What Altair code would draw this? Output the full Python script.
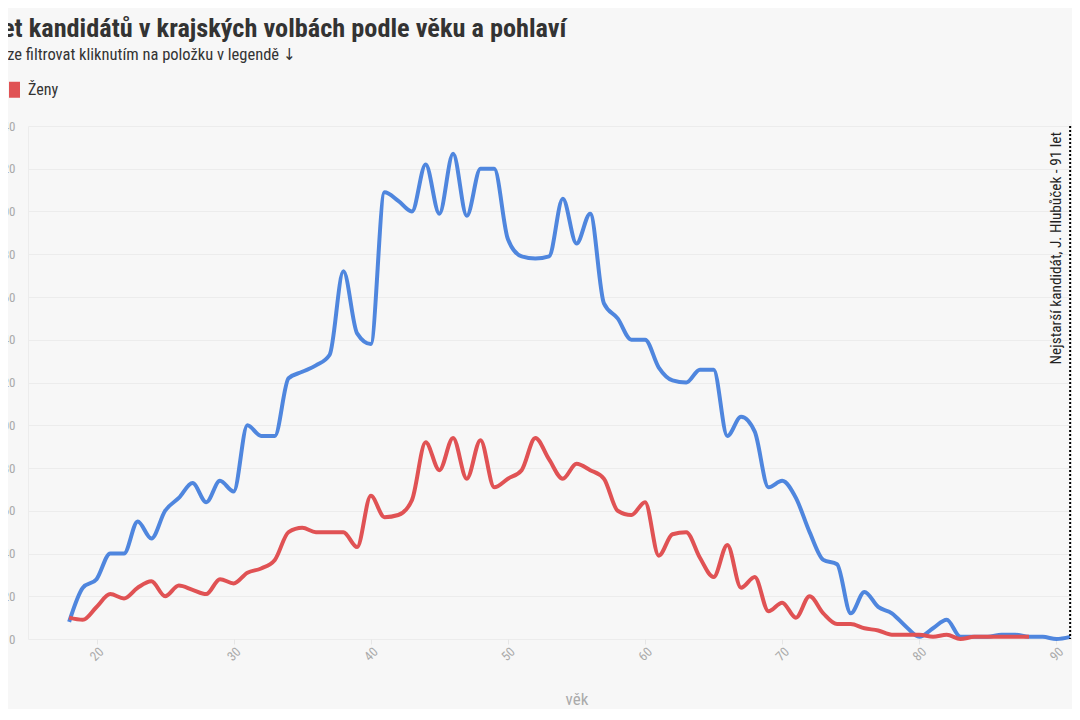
import altair as alt
import pandas as pd

ages = list(range(18, 92))
muzi = [8, 24, 28, 40, 40, 55, 47, 60, 66, 73, 64, 74, 69, 100, 95, 95, 122, 125, 128, 133,
        172, 143, 138, 209, 205, 200, 222, 199, 227, 198, 220, 220, 187, 179, 178, 179, 206, 185, 199, 157,
        150, 140, 140, 127, 121, 120, 126, 126, 95, 104, 97, 71, 74, 66, 50, 37, 35, 12, 22, 15,
        12, 6, 1, 5, 9, 1, 1, 1, 2, 2, 1, 1, 0, 1]
zeny_ages = list(range(18, 89))
zeny = [10, 9, 15, 21, 19, 24, 27, 20, 25, 23, 21, 28, 26, 31, 33, 37, 50, 52, 50, 50,
        50, 43, 67, 57, 58, 65, 92, 79, 94, 75, 93, 71, 75, 79, 94, 84, 75, 82, 79, 75,
        60, 58, 64, 39, 49, 50, 38, 29, 44, 24, 29, 13, 17, 10, 20, 12, 7, 7, 5, 4,
        2, 2, 2, 1, 2, 0, 1, 1, 1, 1, 1]

series = ["Muži", "Ženy"]
colors = ["#4f86de", "#e05254"]

title_text = "Počet kandidátů v krajských volbách podle věku a pohlaví"
subtitle_text = ["Graf lze filtrovat kliknutím na položku v legendě ↓"]

df = pd.concat([
    pd.DataFrame({"vek": ages, "pocet": muzi, "pohlavi": "Muži"}),
    pd.DataFrame({"vek": zeny_ages, "pocet": zeny, "pohlavi": "Ženy"}),
])

oldest_age = [91]
oldest_label = ["Nejstarší kandidát, J. Hlubůček - 91 let"]
ann = pd.DataFrame({"vek": oldest_age, "label": oldest_label})
sub_df = pd.DataFrame({"t": subtitle_text})

FONT = "Roboto Condensed, Liberation Sans Narrow, DejaVu Sans Condensed, Roboto"

xscale = alt.Scale(domain=[15, 95], nice=False, zero=False)
yscale = alt.Scale(domain=[0, 240], nice=False)

lines = alt.Chart(df).mark_line(interpolate="monotone", strokeWidth=4, strokeJoin="round").encode(
    x=alt.X("vek:Q", scale=xscale,
            axis=alt.Axis(title="věk", values=[20, 30, 40, 50, 60, 70, 80, 90], grid=False,
                          labelAngle=-45, labelAlign="center", labelBaseline="middle",
                          labelPadding=10, ticks=True, tickSize=5, tickColor="#e6e6e6",
                          domain=False, labelColor="#aaaaaa", labelFontSize=13,
                          titleColor="#aaaaaa", titleFontSize=17, titleFontWeight="normal",
                          titlePadding=28, labelFont=FONT, titleFont=FONT)),
    y=alt.Y("pocet:Q", scale=yscale,
            axis=alt.Axis(title=None, values=list(range(0, 241, 20)), grid=True,
                          gridColor="#ececec", ticks=False, domain=True, domainColor="#ececec",
                          labelColor="#aaaaaa", labelFontSize=13, labelPadding=13,
                          labelFont=FONT)),
    color=alt.Color("pohlavi:N", scale=alt.Scale(domain=series, range=colors),
                    legend=alt.Legend(title=None, orient="none", legendX=-119, legendY=-50,
                                      direction="horizontal", symbolType="stroke",
                                      symbolSize=121, symbolStrokeWidth=16,
                                      labelFontSize=16, labelColor="#333333", labelFont=FONT,
                                      labelOffset=0, columnPadding=10)),
)

rule = alt.Chart(ann).mark_rule(color="black", strokeWidth=2, strokeDash=[2, 2]).encode(
    x=alt.X("vek:Q", scale=xscale),
    y=alt.value(0),
    y2=alt.value(513),
)

text = alt.Chart(ann).mark_text(angle=270, align="right", baseline="bottom", dx=-6, dy=-6,
                                fontSize=15.3, color="#222222", font=FONT).encode(
    x=alt.X("vek:Q", scale=xscale),
    y=alt.value(0),
    text="label:N",
)

subtitle = alt.Chart(sub_df).mark_text(align="left", baseline="alphabetic", fontSize=16.5,
                                       color="#333333", font=FONT).encode(
    x=alt.value(-56),
    y=alt.value(-66),
    text="t:N",
)

chart = alt.layer(lines, rule, text, subtitle).properties(
    width=1097,
    height=513,
    background="#f7f7f7",
    padding={"left": 20, "top": 118, "right": -53, "bottom": 70},
    autosize=alt.AutoSizeParams(type="none"),
    title=alt.TitleParams(
        text=title_text,
        anchor="start", frame="group", dx=-66, offset=5,
        font=FONT, fontSize=26.3, fontWeight="bold", color="#333333",
    ),
).configure_view(stroke=None)

chart.save("out.html", embed_options={"renderer": "svg", "actions": False})
